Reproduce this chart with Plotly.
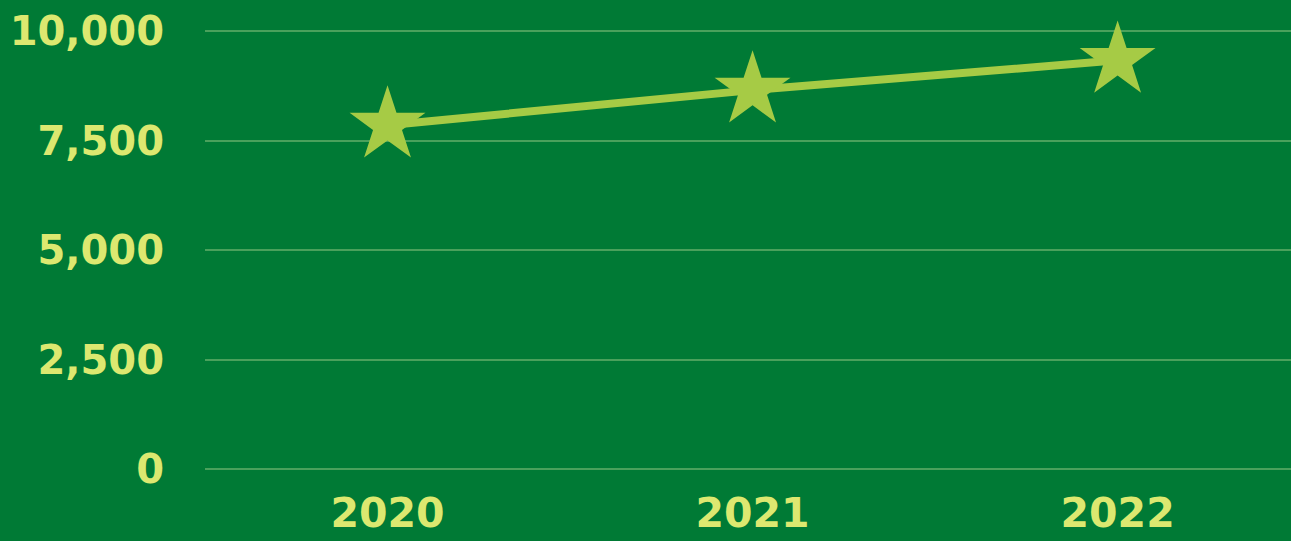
import plotly.graph_objects as go

years = ["2020", "2021", "2022"]
values = [7850, 8650, 9330]
y_ticks = [0, 2500, 5000, 7500, 10000]
y_tick_labels = ["0", "2,500", "5,000", "7,500", "10,000"]

BG = "#007a35"
TXT = "#dce870"
LINE = "#a6cb45"
GRID = "#4aa15c"

fig = go.Figure()
fig.add_trace(go.Scatter(
    x=years, y=values, mode="lines+markers",
    line=dict(color=LINE, width=8),
    marker=dict(symbol="star", size=57, color=LINE, line=dict(width=0)),
    cliponaxis=False, showlegend=False,
))

pad = 114.16  # 5 px in data units, so the 0 and 10,000 grid lines show
fig.update_layout(
    width=1291, height=541,
    paper_bgcolor=BG, plot_bgcolor=BG,
    margin=dict(l=205, r=0, t=26, b=67, autoexpand=False),
    font=dict(family="DejaVu Sans", size=40, color=TXT, weight="bold"),
    xaxis=dict(type="category", range=[-0.5, 2.475], showgrid=False, zeroline=False,
               showline=False, ticks="", ticklabelstandoff=11, automargin=False,
               tickfont=dict(size=41, color=TXT, family="DejaVu Sans", weight="bold")),
    yaxis=dict(range=[-pad, 10000 + pad], tickvals=y_ticks, ticktext=y_tick_labels,
               showgrid=True, gridcolor=GRID, gridwidth=2, zeroline=False,
               showline=False, ticks="", ticklabelstandoff=40, automargin=False,
               tickfont=dict(size=40, color=TXT, family="DejaVu Sans", weight="bold")),
)

fig.write_html("out.html", config={"displayModeBar": False},
               post_script="document.body.style.margin='0';document.body.style.overflow='hidden';")
